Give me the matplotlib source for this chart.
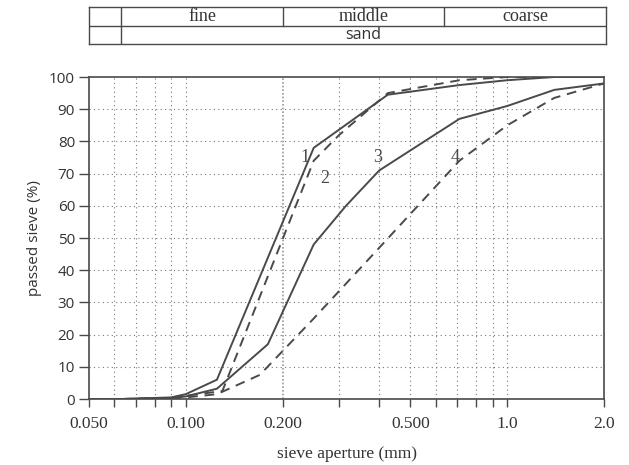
import matplotlib.pyplot as plt
from matplotlib.ticker import FixedLocator, NullFormatter, NullLocator

# sieve sizes (mm) and passing (%) per curve
sieve_1 = [0.05, 0.063, 0.09, 0.1, 0.125, 0.25, 0.425, 0.71, 1.0, 1.4, 2.0]
pass_1 = [0, 0, 0.5, 1.5, 6, 78, 94.5, 97.5, 99, 100, 100]

sieve_2 = [0.05, 0.063, 0.09, 0.1, 0.13, 0.25, 0.3, 0.425, 0.71, 1.0, 2.0]
pass_2 = [0, 0, 0.3, 1, 2.5, 74, 82, 95, 99, 100, 100]

sieve_3 = [0.05, 0.063, 0.09, 0.1, 0.125, 0.18, 0.25, 0.315, 0.4, 0.71, 1.0, 1.4, 2.0]
pass_3 = [0, 0, 0.3, 0.8, 3.2, 17, 48, 60, 71, 87, 91, 96, 98]

sieve_4 = [0.05, 0.063, 0.09, 0.1, 0.125, 0.17, 0.25, 0.4, 0.71, 1.0, 1.4, 2.0]
pass_4 = [0, 0, 0.2, 0.5, 1.5, 7.5, 25, 47, 74, 85, 93.5, 98]

curve_labels = ['1', '2', '3', '4']
label_pos = [(0.235, 75), (0.27, 68.5), (0.395, 75), (0.69, 75)]

x_major = [0.05, 0.1, 0.2, 0.5, 1.0, 2.0]
x_major_labels = ['0.050', '0.100', '0.200', '0.500', '1.0', '2.0']
x_minor = [0.06, 0.07, 0.08, 0.09, 0.3, 0.4, 0.6, 0.7, 0.8, 0.9]
x_grid = [0.06, 0.07, 0.08, 0.09, 0.1, 0.3, 0.4, 0.5, 0.6, 0.7, 0.8, 0.9, 1.0]

fraction_edges = [0.05, 0.063, 0.2, 0.63, 2.0]
fraction_names = ['fine', 'middle', 'coarse']

serif = ['Liberation Serif', 'DejaVu Serif']
sans = ['Open Sans', 'DejaVu Sans']
ink = '#4a4a4a'
txt = '#333333'

fig = plt.figure(figsize=(6.29, 4.65), dpi=100)
ax = fig.add_axes([0.1415, 0.1419, 0.8188, 0.6925])
ax.set_xscale('log')
ax.set_xlim(0.05, 2.0)
ax.set_ylim(0, 100)

# grid
for g in x_grid:
    ax.axvline(g, color='#777777', lw=0.8, ls=(0, (1, 3)), zorder=0)
ax.axvline(0.2, color='#999999', lw=1.2, ls=(0, (1, 1.2)), zorder=0)
for h in range(10, 100, 10):
    ax.axhline(h, color='#777777', lw=0.8, ls=(0, (1, 3)), zorder=0)

dash = (0, (5, 3.5))
ax.plot(sieve_1, pass_1, color=ink, lw=1.4)
ax.plot(sieve_2, pass_2, color=ink, lw=1.4, ls=dash)
ax.plot(sieve_3, pass_3, color=ink, lw=1.4)
ax.plot(sieve_4, pass_4, color=ink, lw=1.4, ls=dash)

for t, (px, py) in zip(curve_labels, label_pos):
    ax.text(px, py, t, family=serif, fontsize=13, color=ink, ha='center', va='center')

ax.xaxis.set_major_locator(FixedLocator(x_major))
ax.set_xticklabels(x_major_labels, family=serif, fontsize=12.5, color=txt)
ax.xaxis.set_minor_locator(FixedLocator(x_minor))
ax.xaxis.set_minor_formatter(NullFormatter())
ax.tick_params(axis='x', which='both', direction='out', length=6, width=1, color=ink, pad=6)
ax.set_yticks(range(0, 101, 10))
ax.tick_params(axis='y', direction='out', length=7, width=1, color=ink, labelsize=11,
               labelcolor=txt, pad=3)
for lb in ax.get_yticklabels():
    lb.set_family(sans)
for s in ax.spines.values():
    s.set_color(ink)
    s.set_linewidth(1.2)

ax.set_xlabel('sieve aperture (mm)', family=serif, fontsize=12.5, color=txt, labelpad=10)
ax.set_ylabel('passed sieve (%)', family=sans, fontsize=11, color=txt, labelpad=5)

# fraction table on top
tab = fig.add_axes([0.1415, 0.905, 0.8220, 0.080])
tab.set_xscale('log')
tab.set_xlim(0.05, 2.0)
tab.set_ylim(0, 2)
tab.xaxis.set_major_locator(NullLocator())
tab.xaxis.set_minor_locator(NullLocator())
tab.set_yticks([])
for s in tab.spines.values():
    s.set_color(ink)
    s.set_linewidth(1.0)
tab.axhline(1, color=ink, lw=1.0)
tab.axvline(fraction_edges[1], color=ink, lw=1.0)
for e in fraction_edges[2:4]:
    tab.plot([e, e], [1, 2], color=ink, lw=1.0)
for i, name in enumerate(fraction_names):
    xc = (fraction_edges[i + 1] * fraction_edges[i + 2]) ** 0.5
    tab.text(xc, 1.5, name, family=serif, fontsize=13, color=txt, ha='center', va='center')
xs = (fraction_edges[1] * fraction_edges[-1]) ** 0.5
tab.text(xs, 0.5, 'sand', family=sans, fontsize=11.5, color=txt, ha='center', va='center')

fig.savefig('out.png', dpi=100)
plt.close(fig)
